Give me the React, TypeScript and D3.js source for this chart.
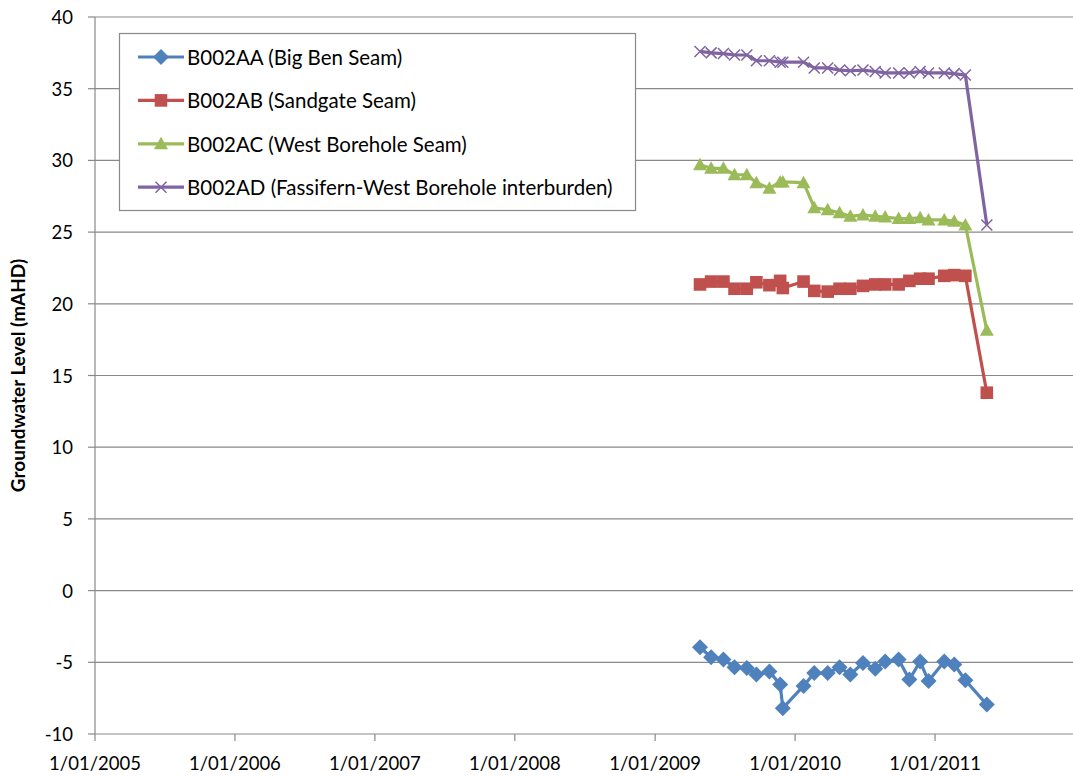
import React from "react";
import * as d3 from "d3";

const dates: string[] = [
  "2009-04-28", "2009-05-27", "2009-06-28", "2009-07-27", "2009-08-28",
  "2009-09-22", "2009-10-26", "2009-11-23", "2009-11-30", "2010-01-23",
  "2010-02-20", "2010-03-27", "2010-04-27", "2010-05-25", "2010-06-27",
  "2010-07-29", "2010-08-24", "2010-09-28", "2010-10-26", "2010-11-23",
  "2010-12-15", "2011-01-25", "2011-02-20", "2011-03-21", "2011-05-16",
];

const bigBen: number[] = [
  -3.95, -4.65, -4.8, -5.35, -5.4, -5.85, -5.65, -6.55, -8.2, -6.65,
  -5.75, -5.75, -5.35, -5.85, -5.05, -5.45, -4.95, -4.8, -6.2, -4.95,
  -6.3, -4.95, -5.15, -6.25, -7.95,
];

const sandgate: number[] = [
  21.35, 21.55, 21.55, 21.05, 21.05, 21.5, 21.3, 21.6, 21.1, 21.55,
  20.9, 20.85, 21.05, 21.05, 21.25, 21.35, 21.35, 21.35, 21.6, 21.75,
  21.75, 21.95, 22.0, 21.95, 13.8,
];

const westBorehole: number[] = [
  29.7, 29.45, 29.45, 29.0, 29.0, 28.45, 28.05, 28.5, 28.5, 28.45,
  26.7, 26.55, 26.35, 26.1, 26.2, 26.1, 26.05, 25.95, 25.95, 26.0,
  25.85, 25.85, 25.75, 25.5, 18.15,
];

const fassifern: number[] = [
  37.6, 37.5, 37.45, 37.35, 37.35, 36.95, 36.95, 36.85, 36.85, 36.85,
  36.45, 36.45, 36.3, 36.25, 36.3, 36.2, 36.1, 36.1, 36.1, 36.2,
  36.1, 36.1, 36.05, 35.95, 25.5,
];

const seriesNames: string[] = [
  "B002AA (Big Ben Seam)",
  "B002AB (Sandgate Seam)",
  "B002AC (West Borehole Seam)",
  "B002AD (Fassifern-West Borehole interburden)",
];
const seriesColors: string[] = ["#4F81BD", "#C0504D", "#9BBB59", "#8064A2"];
const seriesMarkers: string[] = ["diamond", "square", "triangle", "x"];

const yTicks: number[] = [-10, -5, 0, 5, 10, 15, 20, 25, 30, 35, 40];
const xTickYears: number[] = [2005, 2006, 2007, 2008, 2009, 2010, 2011];
const yTitle = "Groundwater Level (mAHD)";

const FONT = "Lato, 'Open Sans', sans-serif";

function markerPath(kind: string): string {
  switch (kind) {
    case "diamond":
      return "M0,-8L8,0L0,8L-8,0Z";
    case "square":
      return "M-6.3,-6.3H6.3V6.3H-6.3Z";
    case "triangle":
      return "M0,-7L7,5.5L-7,5.5Z";
    default:
      return "M-5.5,-5.5L5.5,5.5M-5.5,5.5L5.5,-5.5";
  }
}

function Marker({ kind, color, x, y }: { kind: string; color: string; x: number; y: number }) {
  const d = markerPath(kind);
  if (kind === "x") {
    return (
      <path d={d} transform={`translate(${x},${y})`} stroke={color} strokeWidth={1.5} fill="none" />
    );
  }
  return <path d={d} transform={`translate(${x},${y})`} fill={color} stroke="none" />;
}

export default function App() {
  const W = 1073;
  const H = 777;
  const left = 95;
  const top = 17;
  const bottom = 734;
  const right = 1075;

  const parse = d3.timeParse("%Y-%m-%d");
  const x = d3
    .scaleTime()
    .domain([new Date(2005, 0, 1), new Date(2012, 0, 1)])
    .range([left, right]);
  const y = d3.scaleLinear().domain([-10, 40]).range([bottom, top]);

  const allSeries = [bigBen, sandgate, westBorehole, fassifern];
  const line = d3
    .line<[Date, number]>()
    .x((d) => x(d[0]))
    .y((d) => y(d[1]));

  const fmt = d3.timeFormat("%-d/%m/%Y");
  const gridColor = "#898989";

  return (
    <svg
      width={W}
      height={H}
      style={{ position: "absolute", left: 0, top: 0, background: "#fff" }}
      fontFamily={FONT}
    >
      <rect x={0} y={0} width={W} height={H} fill="#fff" />
      {yTicks.map((t) => (
        <g key={"g" + t}>
          <line x1={left} x2={right} y1={y(t)} y2={y(t)} stroke={gridColor} strokeWidth={1.2} />
          <line x1={left - 7} x2={left} y1={y(t)} y2={y(t)} stroke={gridColor} strokeWidth={1.2} />
          <text
            x={73}
            y={y(t)}
            textAnchor="end"
            dominantBaseline="central"
            fontSize={18.5}
            fill="#000"
          >
            {t}
          </text>
        </g>
      ))}
      <line x1={left} x2={left} y1={top} y2={bottom} stroke={gridColor} strokeWidth={1.2} />
      {xTickYears.map((yr) => {
        const d = new Date(yr, 0, 1);
        return (
          <g key={"x" + yr}>
            <line x1={x(d)} x2={x(d)} y1={bottom} y2={bottom + 7} stroke={gridColor} strokeWidth={1.2} />
            <text x={x(d)} y={770} textAnchor="middle" fontSize={18.5} fill="#000">
              {fmt(d)}
            </text>
          </g>
        );
      })}
      <text
        transform={`translate(25,${(top + bottom) / 2}) rotate(-90)`}
        textAnchor="middle"
        fontSize={19}
        fontWeight="bold"
        fill="#000"
      >
        {yTitle}
      </text>
      {allSeries.map((vals, i) => {
        const pts: [Date, number][] = vals.map((v, j) => [parse(dates[j]) as Date, v]);
        return (
          <g key={"s" + i}>
            <path d={line(pts) || ""} fill="none" stroke={seriesColors[i]} strokeWidth={3.2} strokeLinejoin="round" />
            {pts.map((p, j) => (
              <Marker key={j} kind={seriesMarkers[i]} color={seriesColors[i]} x={x(p[0])} y={y(p[1])} />
            ))}
          </g>
        );
      })}
      <rect x={119.5} y={33.5} width={516} height={177} fill="#fff" stroke={gridColor} strokeWidth={1.2} />
      {seriesNames.map((name, i) => {
        const ly = 57 + i * 43.4;
        return (
          <g key={"l" + i}>
            <line x1={138} x2={184} y1={ly} y2={ly} stroke={seriesColors[i]} strokeWidth={3.2} />
            <Marker kind={seriesMarkers[i]} color={seriesColors[i]} x={161} y={ly} />
            <text x={187} y={ly} dominantBaseline="central" fontSize={20.5} fill="#000">
              {name}
            </text>
          </g>
        );
      })}
    </svg>
  );
}
